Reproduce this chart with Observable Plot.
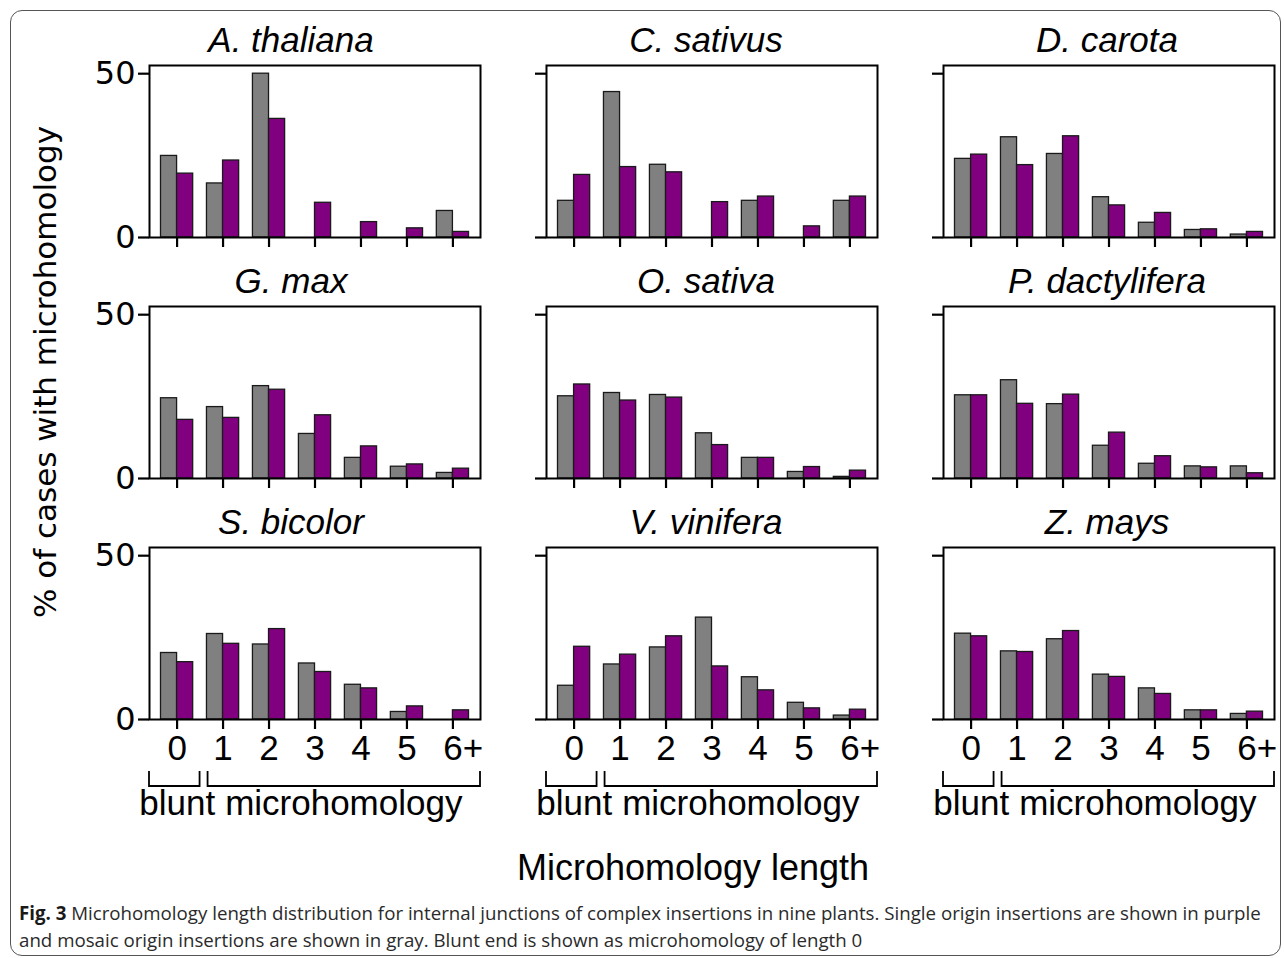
<!DOCTYPE html>
<html>
<head>
<meta charset="utf-8">
<script src="https://cdn.jsdelivr.net/npm/d3@7"></script>
<script src="https://cdn.jsdelivr.net/npm/@observablehq/plot@0.6"></script>
<style>
  body { margin: 0; background: #fff; }
  #fig { position: relative; width: 1284px; height: 958px; overflow: hidden; background: #fff; }
  #border { position: absolute; left: 10px; top: 10px; width: 1271px; height: 946px; border: 1.5px solid #555; border-radius: 12px; box-sizing: border-box; }
  .panel { position: absolute; }
  .panel svg { overflow: visible; background: transparent !important; }
  g[aria-label="x-axis tick label"] { font-family: "Liberation Sans", Arial, sans-serif; font-size: 35px; fill: #000; }
  g[aria-label="y-axis tick label"] { font-family: "DejaVu Sans", sans-serif; font-size: 32px; fill: #000; }
  #ylabel { position: absolute; left: 45px; top: 372px; transform: translate(-50%, -50%) rotate(-90deg); white-space: nowrap; font-family: "DejaVu Sans", sans-serif; font-size: 31px; color: #000; }
  #xlabel { position: absolute; left: 693px; top: 868px; transform: translate(-50%, -50%); white-space: nowrap; font-family: "Liberation Sans", Arial, sans-serif; font-size: 36px; color: #000; }
  #caption { position: absolute; left: 19px; top: 899px; white-space: nowrap; font-family: "Open Sans", sans-serif; font-size: 18.7px; line-height: 27px; color: #2a2a2a; }
  #caption b { color: #1a1a1a; }
</style>
</head>
<body>
<div id="fig">
  <div id="border"></div>
  <div id="ylabel">% of cases with microhomology</div>
  <div id="xlabel">Microhomology length</div>
  <div id="caption"><b>Fig. 3</b> Microhomology length distribution for internal junctions of complex insertions in nine plants. Single origin insertions are shown in purple<br>and mosaic origin insertions are shown in gray. Blunt end is shown as microhomology of length 0</div>
</div>
<script>
// ---- data ----
const categories = ["0", "1", "2", "3", "4", "5", "6+"];
const species = ["A. thaliana", "C. sativus", "D. carota", "G. max", "O. sativa", "P. dactylifera", "S. bicolor", "V. vinifera", "Z. mays"];
// mosaic origin insertions (gray), % of cases
const mosaic = [
  [24.9, 16.5, 50.0, 0, 0, 0, 8.1],
  [11.2, 44.4, 22.2, 0, 11.2, 0, 11.2],
  [24.0, 30.6, 25.5, 12.3, 4.5, 2.3, 0.9],
  [24.5, 21.8, 28.2, 13.6, 6.3, 3.6, 1.7],
  [25.1, 26.1, 25.5, 13.8, 6.3, 2.0, 0.5],
  [25.4, 30.0, 22.7, 10.0, 4.5, 3.7, 3.7],
  [20.3, 26.1, 22.9, 17.1, 10.6, 2.3, 0],
  [10.3, 16.8, 22.0, 31.1, 12.9, 5.1, 1.2],
  [26.2, 20.8, 24.5, 13.7, 9.5, 2.8, 1.7]
];
// single origin insertions (purple), % of cases
const single = [
  [19.5, 23.5, 36.2, 10.6, 4.7, 2.8, 1.7],
  [19.1, 21.5, 19.9, 10.8, 12.5, 3.4, 12.5],
  [25.3, 22.1, 30.9, 9.8, 7.5, 2.5, 1.7],
  [17.9, 18.5, 27.1, 19.3, 9.8, 4.3, 3.0],
  [28.7, 23.8, 24.7, 10.2, 6.3, 3.5, 2.4],
  [25.4, 22.8, 25.6, 14.0, 6.8, 3.4, 1.6],
  [17.5, 23.1, 27.6, 14.5, 9.5, 4.0, 2.8],
  [22.2, 19.8, 25.4, 16.2, 8.9, 3.4, 3.0],
  [25.4, 20.6, 27.0, 13.0, 7.8, 2.8, 2.4]
];
const yTicks = [0, 50];
const groups = [
  { label: "blunt", cats: ["0"] },
  { label: "microhomology", cats: ["1", "2", "3", "4", "5", "6+"] }
];

// ---- layout / style ----
const GRAY = "#808080", PURPLE = "#800080";
const frameW = 331, frameH = 172;
const colLeft = [149, 546, 943], rowTop = [65, 306, 547];
const titleDx = [-24, -6, -2];
const mL = 60, mR = 10, mT = 50;
const barW = 0.35, pad = 0.6;

const fig = document.getElementById("fig");

species.forEach((name, k) => {
  const row = Math.floor(k / 3), col = k % 3;
  const bottomRow = row === 2;
  const mB = bottomRow ? 112 : 22;
  const rows = [];
  categories.forEach((c, i) => {
    if (mosaic[k][i] > 0) rows.push({ i, v: mosaic[k][i], s: "mosaic" });
    if (single[k][i] > 0) rows.push({ i, v: single[k][i], s: "single" });
  });

  const marks = [
    Plot.rectY(rows, {
      x1: d => d.s === "mosaic" ? d.i - barW : d.i,
      x2: d => d.s === "mosaic" ? d.i : d.i + barW,
      y: "v",
      fill: d => d.s === "mosaic" ? GRAY : PURPLE,
      stroke: "#1a1a1a",
      strokeWidth: 1.3
    }),
    Plot.frame({ stroke: "#000", strokeWidth: 2 }),
    Plot.axisX({
      ticks: d3.range(categories.length),
      tickSize: 10,
      strokeWidth: 2.2,
      tickFormat: () => "",
      label: null
    }),
    Plot.axisY({
      ticks: yTicks,
      tickSize: 11,
      tickPadding: 3,
      strokeWidth: 2.2,
      tickFormat: col === 0 ? (d => String(d)) : (() => ""),
      label: null
    }),
    Plot.text([name], {
      frameAnchor: "top",
      dy: -25,
      dx: titleDx[col],
      lineAnchor: "middle",
      text: d => d,
      fontFamily: "Liberation Sans, Arial, sans-serif",
      fontStyle: "italic",
      fontSize: 35,
      fill: "#000"
    })
  ];

  if (bottomRow) {
    marks.push(Plot.axisX({
      ticks: d3.range(categories.length),
      tickSize: 0,
      tickPadding: 16,
      tickFormat: i => categories[i],
      textAnchor: "start",
      dx: -9.7,
      label: null
    }));
    marks.push((index, scales, values, dims) => {
      const x = scales.x;
      const y0 = dims.height - dims.marginBottom;
      const g = d3.create("svg:g");
      groups.forEach((grp, gi) => {
        const first = categories.indexOf(grp.cats[0]);
        const last = categories.indexOf(grp.cats[grp.cats.length - 1]);
        const xa = gi === 0 ? x(first - pad) : x(first - 0.5) + 8;
        const xb = gi === groups.length - 1 ? x(last + pad) : x(last + 0.5);
        g.append("path")
          .attr("d", `M${xa},${y0 + 52}V${y0 + 67}H${xb}V${y0 + 52}`)
          .attr("fill", "none")
          .attr("stroke", "#000")
          .attr("stroke-width", 1.8);
        g.append("text")
          .attr("x", (xa + xb) / 2 + (gi === 0 ? 3 : 0))
          .attr("y", y0 + 96)
          .attr("text-anchor", "middle")
          .attr("font-family", "Liberation Sans, Arial, sans-serif")
          .attr("font-size", 35)
          .attr("fill", "#000")
          .text(grp.label);
      });
      return g.node();
    });
  }

  const chart = Plot.plot({
    width: mL + frameW + mR,
    height: mT + frameH + mB,
    marginLeft: mL,
    marginRight: mR,
    marginTop: mT,
    marginBottom: mB,
    style: { background: "transparent", overflow: "visible" },
    x: { type: "linear", domain: [-pad, categories.length - 1 + pad], axis: null },
    y: { domain: [0, 52.5], axis: null },
    marks
  });

  const div = document.createElement("div");
  div.className = "panel";
  div.style.left = (colLeft[col] - mL) + "px";
  div.style.top = (rowTop[row] - mT) + "px";
  div.appendChild(chart);
  fig.appendChild(div);
});
</script>
</body>
</html>
